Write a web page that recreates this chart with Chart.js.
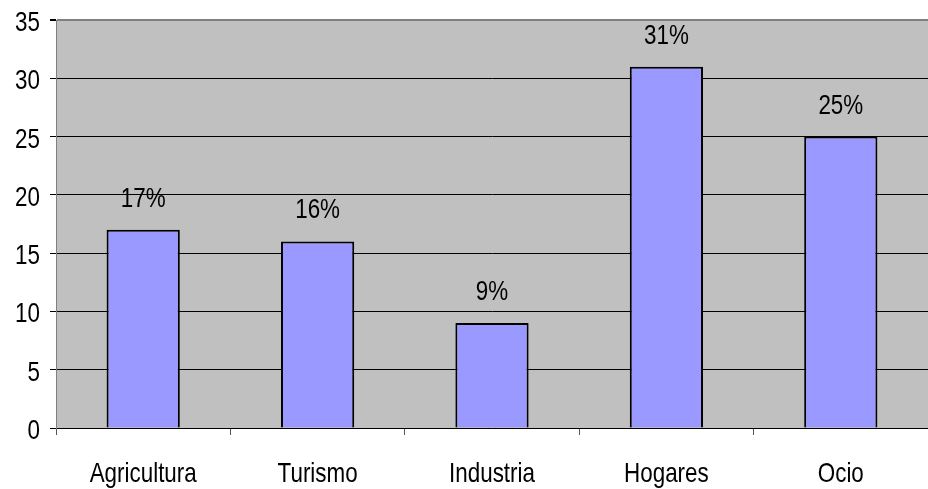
<!DOCTYPE html>
<html lang="es">
<head>
  <meta charset="UTF-8">
  <title>Consumo</title>
  <script src="https://cdn.jsdelivr.net/npm/chart.js"></script>
  <style>
    html, body { margin: 0; padding: 0; background: #fff; }
    #wrap { width: 928px; height: 489px; }
  </style>
</head>
<body>
  <div id="wrap"><canvas id="chart" width="928" height="489"></canvas></div>

  <script>
    const categories = ['Agricultura', 'Turismo', 'Industria', 'Hogares', 'Ocio'];
    const values = [17, 16, 9, 31, 25];
    const valueLabels = ['17%', '16%', '9%', '31%', '25%'];

    const FONT = "'Liberation Sans', Arial, sans-serif";
    const NARROW = 0.8; // el original usa una fuente estrecha (tipo Arial Narrow)

    function narrowText(c, txt, x, y, align) {
      c.save();
      c.translate(x, y);
      c.scale(NARROW, 1);
      c.textAlign = align;
      c.textBaseline = 'alphabetic';
      c.fillText(txt, 0, 0);
      c.restore();
    }

    // fondo gris del área de trazado
    const plotBg = {
      id: 'plotBg',
      beforeDraw(chart) {
        const a = chart.chartArea, c = chart.ctx;
        c.save();
        c.fillStyle = '#c0c0c0';
        c.fillRect(a.left, a.top, a.right - a.left, a.bottom - a.top);
        c.restore();
      }
    };

    // textos: etiquetas de ejes y porcentajes
    const texts = {
      id: 'texts',
      afterDraw(chart) {
        const c = chart.ctx;
        const xs = chart.scales.x, ys = chart.scales.y;
        c.save();
        c.font = '28px ' + FONT;
        c.fillStyle = '#000';
        ys.ticks.forEach(t => {
          narrowText(c, String(t.value), 40, ys.getPixelForValue(t.value) + 11, 'right');
        });
        categories.forEach((lab, i) => {
          narrowText(c, lab, xs.getPixelForValue(i), 482, 'center');
        });
        chart.getDatasetMeta(0).data.forEach((bar, i) => {
          narrowText(c, valueLabels[i], bar.x, bar.y - 23, 'center');
        });
        c.restore();
      }
    };

    new Chart(document.getElementById('chart'), {
      type: 'bar',
      data: {
        labels: categories,
        datasets: [{
          data: values,
          backgroundColor: '#9999ff',
          borderColor: '#000',
          borderWidth: 2,
          borderSkipped: 'bottom',
          barPercentage: 0.42,
          categoryPercentage: 1
        }]
      },
      options: {
        responsive: false,
        animation: false,
        layout: { padding: { top: 20, right: 0, left: 0, bottom: 0 } },
        plugins: {
          legend: { display: false },
          tooltip: { enabled: false }
        },
        scales: {
          x: {
            offset: true,
            grid: {
              offset: true,
              drawOnChartArea: false,
              color: '#000',
              tickColor: '#555',
              tickLength: 7
            },
            border: { color: '#000', width: 1 },
            ticks: { color: 'rgba(0,0,0,0)', maxRotation: 0 },
            afterFit(s) { s.height = 61; }
          },
          y: {
            min: 0,
            max: 35,
            grid: {
              color: ctx => (ctx.tick && ctx.tick.value === 35) ? '#808080' : '#000',
              lineWidth: ctx => (ctx.tick && ctx.tick.value === 35) ? 2 : 1,
              tickColor: '#000',
              tickLength: 6
            },
            border: { color: '#808080', width: 1 },
            ticks: { stepSize: 5, color: 'rgba(0,0,0,0)' },
            afterFit(s) { s.width = 56; }
          }
        }
      },
      plugins: [plotBg, texts]
    });
  </script>
</body>
</html>
